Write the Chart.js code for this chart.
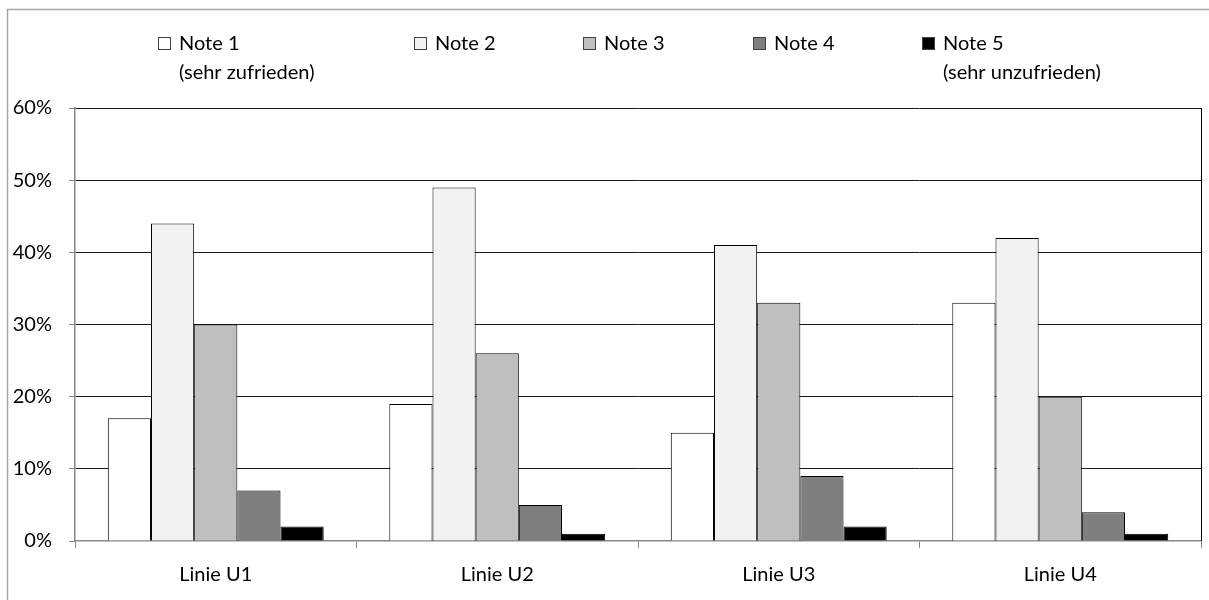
<!DOCTYPE html>
<html>
<head>
<meta charset="utf-8">
<script src="https://cdn.jsdelivr.net/npm/chart.js@4/dist/chart.umd.min.js"></script>
<style>
  html, body { margin: 0; padding: 0; background: #fff; }
  #wrap { width: 1209px; height: 600px; position: relative; }
</style>
</head>
<body>
<div id="wrap"><canvas id="c" width="1209" height="600"></canvas></div>
<script>
// Satisfaction ratings per line, share of answers in percent
const categories = ['Linie U1', 'Linie U2', 'Linie U3', 'Linie U4'];
const note1 = [17, 19, 15, 33];
const note2 = [44, 49, 41, 42];
const note3 = [30, 26, 33, 20];
const note4 = [7, 5, 9, 4];
const note5 = [2, 1, 2, 1];
const seriesLabels = [
  ['Note 1', '(sehr zufrieden)'],
  ['Note 2'],
  ['Note 3'],
  ['Note 4'],
  ['Note 5', '(sehr unzufrieden)']
];
const yTicks = [0, 10, 20, 30, 40, 50, 60];

const fills = ['#ffffff', '#f2f2f2', '#bfbfbf', '#7f7f7f', '#000000'];
const FONT = 'Lato, "Open Sans", sans-serif';

const seriesValues = [note1, note2, note3, note4, note5];
const datasets = seriesValues.map((vals, i) => ({
  label: seriesLabels[i].join(' '),
  data: vals,
  backgroundColor: fills[i],
  borderColor: '#000000',
  borderWidth: 1,
  borderSkipped: 'bottom',
  categoryPercentage: 0.767,
  barPercentage: 1.0
}));

// Legend with two-line labels, plus outer frame and right plot border
const decorations = {
  id: 'decorations',
  afterDraw(chart) {
    const ctx = chart.ctx;
    const area = chart.chartArea;
    ctx.save();
    // outer frame (top and left edges)
    ctx.strokeStyle = '#a6a6a6';
    ctx.lineWidth = 1.5;
    ctx.beginPath();
    ctx.moveTo(7.5, 600);
    ctx.lineTo(7.5, 9.5);
    ctx.lineTo(1209, 9.5);
    ctx.stroke();
    // right border of the plot area
    ctx.strokeStyle = '#000000';
    ctx.lineWidth = 1;
    ctx.beginPath();
    ctx.moveTo(Math.round(area.right) + 0.5, area.top);
    ctx.lineTo(Math.round(area.right) + 0.5, area.bottom);
    ctx.stroke();
    // legend
    const boxX = [158, 414, 583, 753, 922];
    ctx.font = '20px ' + FONT;
    ctx.textBaseline = 'middle';
    ctx.textAlign = 'left';
    seriesLabels.forEach((lines, i) => {
      const x = boxX[i];
      ctx.fillStyle = fills[i];
      ctx.fillRect(x + 0.5, 37.5, 12, 12);
      ctx.strokeStyle = '#404040';
      ctx.lineWidth = 1;
      ctx.strokeRect(x + 0.5, 37.5, 12, 12);
      ctx.fillStyle = '#000000';
      lines.forEach((t, k) => ctx.fillText(t, x + 21, 44 + k * 29));
    });
    ctx.restore();
  }
};

new Chart(document.getElementById('c'), {
  type: 'bar',
  data: { labels: categories, datasets },
  options: {
    responsive: false,
    animation: false,
    layout: { padding: { left: 0, right: 8, top: 108, bottom: 0 } },
    plugins: { legend: { display: false }, tooltip: { enabled: false } },
    scales: {
      x: {
        offset: true,
        grid: {
          offset: true,
          drawOnChartArea: false,
          drawTicks: true,
          tickLength: 7,
          tickColor: '#868686'
        },
        border: { color: '#868686', width: 1.5 },
        ticks: { color: '#000000', font: { family: FONT, size: 20 }, padding: 15 },
        afterFit(scale) { scale.height = 59; }
      },
      y: {
        min: yTicks[0],
        max: yTicks[yTicks.length - 1],
        afterBuildTicks(scale) { scale.ticks = yTicks.map(v => ({ value: v })); },
        grid: {
          color: ctx => (ctx.tick && ctx.tick.value === 0) ? 'rgba(0,0,0,0)' : '#1a1a1a',
          lineWidth: 1,
          tickLength: 6,
          tickColor: '#868686'
        },
        border: { color: '#868686', width: 1.5 },
        ticks: {
          color: '#000000',
          font: { family: FONT, size: 20 },
          padding: 17,
          callback: v => v + '%'
        },
        afterFit(scale) { scale.width = 75; }
      }
    }
  },
  plugins: [decorations]
});
</script>
</body>
</html>
